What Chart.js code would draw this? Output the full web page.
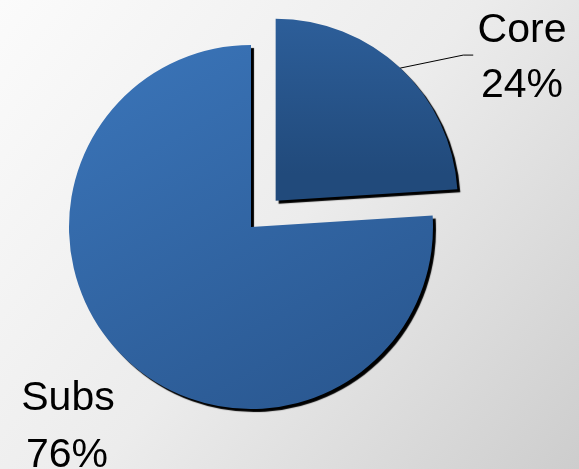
<!DOCTYPE html>
<html>
<head>
<meta charset="utf-8">
<script src="https://cdn.jsdelivr.net/npm/chart.js@4/dist/chart.umd.min.js"></script>
<style>
html,body{margin:0;padding:0;background:#fff;}
#wrap{width:579px;height:469px;position:relative;}
</style>
</head>
<body>
<div id="wrap"><canvas id="c" width="579" height="469"></canvas></div>
<script>
const categories = ["Core", "Subs"];
const shares = [24, 76];
const percentLabels = ["24%", "76%"];
const explode = [144, 0];

const bgPlugin = {
  id: 'bg',
  beforeDraw(chart) {
    const ctx = chart.ctx, w = chart.width, h = chart.height;
    const g = ctx.createLinearGradient(0, 0, w, h);
    g.addColorStop(0, '#fbfbfb');
    g.addColorStop(0.5, '#ececec');
    g.addColorStop(1, '#cdcdcd');
    ctx.save();
    ctx.fillStyle = g;
    ctx.fillRect(0, 0, w, h);
    ctx.restore();
  }
};

const shadowPlugin = {
  id: 'shadow',
  beforeDatasetsDraw(chart) {
    const ctx = chart.ctx;
    ctx.save();
    ctx.shadowColor = 'rgba(0,0,0,1)';
    ctx.shadowOffsetX = 3;
    ctx.shadowOffsetY = 3;
    ctx.shadowBlur = 1;
  },
  afterDatasetsDraw(chart) {
    chart.ctx.restore();
  }
};

const labelPlugin = {
  id: 'labels',
  afterDraw(chart) {
    const ctx = chart.ctx;
    const meta = chart.getDatasetMeta(0);
    ctx.save();
    ctx.fillStyle = '#000';
    ctx.font = '41px "Liberation Sans", Arial, sans-serif';
    ctx.textAlign = 'center';
    ctx.textBaseline = 'alphabetic';
    const a = meta.data[0];
    const mid = (a.startAngle + a.endAngle) / 2;
    const off = explode[0] / 4;
    const cx = a.x + Math.cos(mid) * off, cy = a.y + Math.sin(mid) * off;
    const px = cx + Math.cos(mid) * a.outerRadius, py = cy + Math.sin(mid) * a.outerRadius;
    ctx.strokeStyle = '#000';
    ctx.lineWidth = 1;
    ctx.beginPath();
    ctx.moveTo(px, py);
    ctx.lineTo(px + 63, py - 13);
    ctx.lineTo(px + 73, py - 13);
    ctx.stroke();
    ctx.fillText(categories[0], 522, 42);
    ctx.fillText(percentLabels[0], 522, 97);
    ctx.fillText(categories[1], 68, 410);
    ctx.fillText(percentLabels[1], 67, 467);
    ctx.restore();
  }
};

function sliceFill(context) {
  const chart = context.chart;
  const area = chart.chartArea;
  if (!area) return '#2d5f9c';
  const ctx = chart.ctx;
  const i = context.dataIndex;
  let g;
  if (i === 0) {
    g = ctx.createLinearGradient(0, 15, 0, 200);
    g.addColorStop(0, '#2f629f');
    g.addColorStop(1, '#214a7b');
  } else {
    g = ctx.createLinearGradient(120, 45, 330, 410);
    g.addColorStop(0, '#3a74b8');
    g.addColorStop(1, '#2a5891');
  }
  return g;
}

new Chart(document.getElementById('c'), {
  type: 'pie',
  data: {
    labels: categories,
    datasets: [{
      data: shares,
      backgroundColor: sliceFill,
      borderWidth: 0,
      offset: explode
    }]
  },
  options: {
    responsive: false,
    animation: false,
    radius: 182,
    rotation: 0,
    layout: { padding: { left: 0, right: 77, top: 0, bottom: 15 } },
    plugins: {
      legend: { display: false },
      tooltip: { enabled: false }
    }
  },
  plugins: [bgPlugin, shadowPlugin, labelPlugin]
});
</script>
</body>
</html>
